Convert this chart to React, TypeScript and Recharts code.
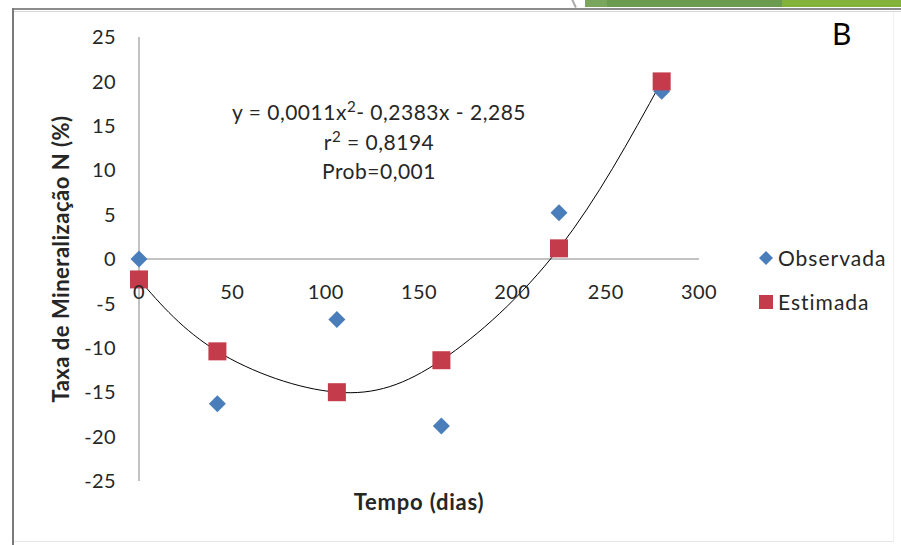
import { ComposedChart, Line, ReferenceDot, ReferenceLine, Scatter, XAxis, YAxis } from "recharts";

// tempo de incubação (dias) e taxa de mineralização de N (%)
const DIAS = [0, 42, 106, 162, 225, 280];
const OBSERVADA = [0, -16.3, -6.8, -18.8, 5.2, 18.9];
const ESTIMADA = [-2.3, -10.4, -15.0, -11.4, 1.2, 20.0];

const X_TICKS = [0, 50, 100, 150, 200, 250, 300];
const Y_TICKS = [-25, -20, -15, -10, -5, 0, 5, 10, 15, 20, 25];

// coeficientes da regressão quadrática (a, b, c), r² e probabilidade
const COEFICIENTES = ["0,0011", "0,2383", "2,285"];
const R2 = "0,8194";
const PROB = "0,001";

const AZUL = "#4A7EBB";
const VERMELHO = "#C43C4C";
const EIXO = "#868686";
const TEXTO = "#262626";
const FONTE = "Lato, 'Open Sans', sans-serif";

const rows = DIAS.map((dia, i) => ({ dia, observada: OBSERVADA[i], estimada: ESTIMADA[i] }));

function Losango({ cx, cy }: any) {
  const h = 8.5;
  return <polygon points={`${cx},${cy - h} ${cx + h},${cy} ${cx},${cy + h} ${cx - h},${cy}`} fill={AZUL} />;
}

function Quadrado({ cx, cy }: any) {
  const h = 9;
  return <rect x={cx - h} y={cy - h} width={h * 2} height={h * 2} fill={VERMELHO} />;
}

const sup = { fontSize: "0.72em", lineHeight: 0, verticalAlign: "0.5em" } as const;

export default function App() {
  return (
    <div
      style={{
        position: "absolute",
        left: 0,
        top: 0,
        width: 901,
        height: 545,
        background: "#fff",
        overflow: "hidden",
        fontFamily: FONTE,
        color: TEXTO,
      }}
    >
      {/* moldura do slide */}
      <div style={{ position: "absolute", left: 585, top: 0, width: 22, height: 7, background: "#79a65c" }} />
      <div style={{ position: "absolute", left: 607, top: 0, width: 175, height: 7, background: "#6b9b4f" }} />
      <div style={{ position: "absolute", left: 782, top: 0, width: 119, height: 7, background: "#82b23a" }} />
      <div
        style={{
          position: "absolute",
          left: 573,
          top: -1,
          width: 1.5,
          height: 9,
          background: "#aaa",
          transform: "rotate(-25deg)",
        }}
      />
      <div style={{ position: "absolute", left: 12, top: 8, width: 889, height: 2, background: "#8c8c8c" }} />
      <div style={{ position: "absolute", left: 12, top: 11, width: 889, height: 1, background: "#d8d8d8" }} />
      <div style={{ position: "absolute", left: 12, top: 8, width: 2, height: 537, background: "#7a7a7a" }} />
      <div style={{ position: "absolute", left: 14, top: 541, width: 880, height: 1, background: "#e6e6e6" }} />
      <div style={{ position: "absolute", left: 893, top: 12, width: 1, height: 530, background: "#efefef" }} />

      <ComposedChart
        width={901}
        height={545}
        data={rows}
        margin={{ top: 37, right: 202, bottom: 0, left: 0 }}
        style={{ position: "absolute", left: 0, top: 0, fontFamily: FONTE }}
      >
        <XAxis
          type="number"
          dataKey="dia"
          domain={[0, 300]}
          ticks={X_TICKS}
          height={64}
          tick={false}
          tickLine={false}
          axisLine={false}
          label={{
            value: "Tempo (dias)",
            position: "insideTop",
            offset: 13,
            fill: TEXTO,
            fontSize: 22,
            fontWeight: 700,
            letterSpacing: 0.8,
          }}
        />
        <YAxis
          type="number"
          domain={[-25, 25]}
          ticks={Y_TICKS}
          interval={0}
          width={139}
          tickLine={false}
          tickSize={0}
          tickMargin={23}
          axisLine={{ stroke: EIXO, strokeWidth: 1 }}
          tick={{ fill: TEXTO, fontSize: 20, letterSpacing: 0.4 }}
          label={{
            value: "Taxa de Mineralização N (%)",
            angle: -90,
            position: "insideLeft",
            offset: 61,
            fill: TEXTO,
            fontSize: 22,
            fontWeight: 700,
            letterSpacing: 0.5,
            style: { textAnchor: "middle" },
          }}
        />
        <ReferenceLine y={0} stroke={EIXO} strokeWidth={1} />
        {X_TICKS.map((t) => (
          <ReferenceDot
            key={t}
            x={t}
            y={0}
            r={0}
            fill="none"
            stroke="none"
            ifOverflow="visible"
            label={{
              value: String(t),
              position: "bottom",
              offset: 26,
              fill: TEXTO,
              fontSize: 20,
              letterSpacing: 0.4,
            }}
          />
        ))}
        <Scatter dataKey="observada" shape={Losango} isAnimationActive={false} />
        <Scatter dataKey="estimada" shape={Quadrado} isAnimationActive={false} />
        <Line
          type="natural"
          dataKey="estimada"
          stroke="#000"
          strokeWidth={1}
          dot={false}
          activeDot={false}
          isAnimationActive={false}
        />
      </ComposedChart>

      {/* equação da regressão */}
      <div
        style={{
          position: "absolute",
          left: 179,
          top: 97,
          width: 400,
          textAlign: "center",
          fontSize: 21,
          letterSpacing: 0.5,
          lineHeight: "29.5px",
          whiteSpace: "nowrap",
        }}
      >
        <div>
          y = {COEFICIENTES[0]}x<span style={sup}>2</span>- {COEFICIENTES[1]}x - {COEFICIENTES[2]}
        </div>
        <div>
          r<span style={sup}>2</span> = {R2}
        </div>
        <div>Prob={PROB}</div>
      </div>

      <div style={{ position: "absolute", left: 832, top: 18, fontSize: 30, lineHeight: 1, color: "#000" }}>B</div>

      {/* legenda */}
      <div style={{ position: "absolute", left: 756, top: 241, fontSize: 21, letterSpacing: 1, lineHeight: "33px" }}>
        <div style={{ display: "flex", alignItems: "center", height: 33 }}>
          <svg width={20} height={16} style={{ marginRight: 2 }}>
            <polygon points="10,1 17,8 10,15 3,8" fill={AZUL} />
          </svg>
          Observada
        </div>
        <div style={{ display: "flex", alignItems: "center", height: 33, marginTop: 11 }}>
          <svg width={20} height={16} style={{ marginRight: 2 }}>
            <rect x={3} y={1} width={14} height={14} fill={VERMELHO} />
          </svg>
          Estimada
        </div>
      </div>
    </div>
  );
}
